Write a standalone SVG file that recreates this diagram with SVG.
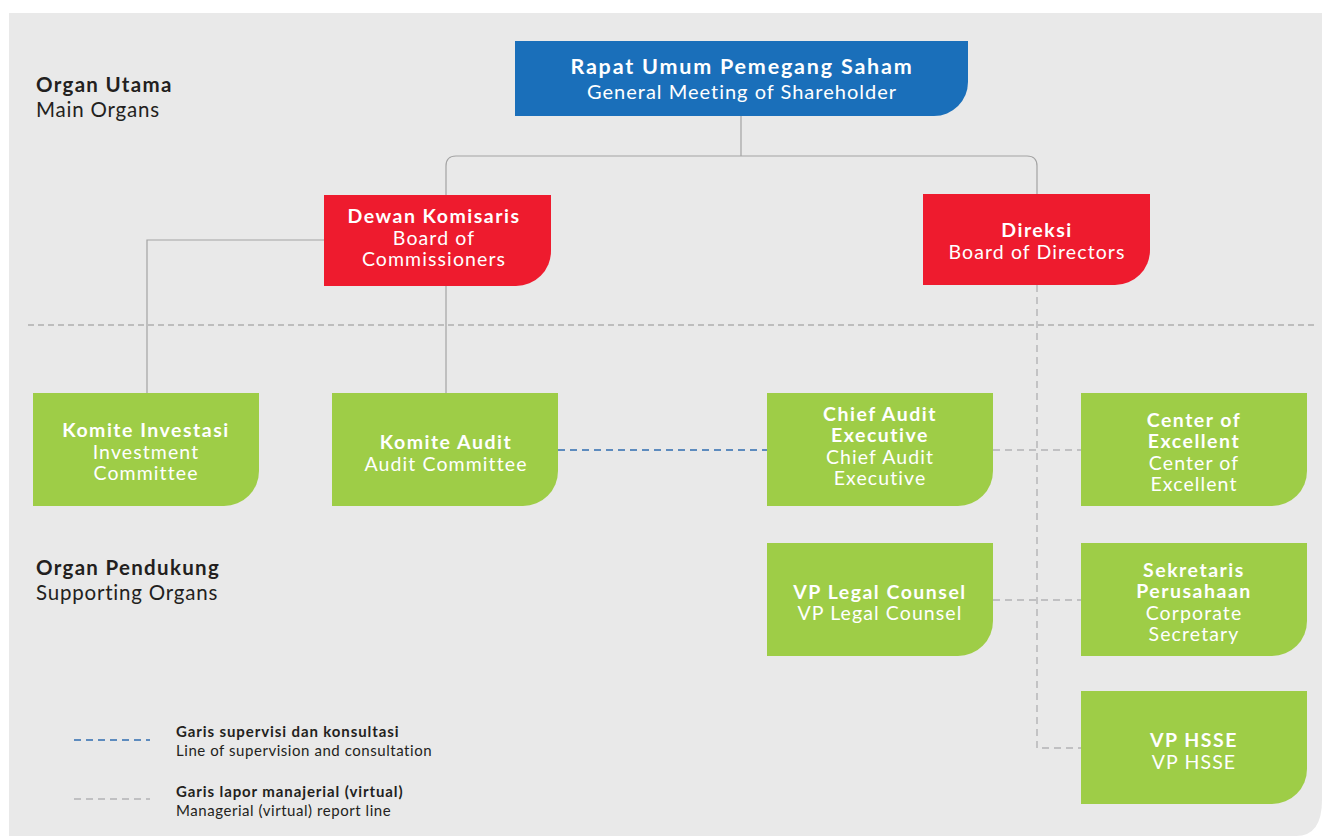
<svg xmlns="http://www.w3.org/2000/svg" width="1322" height="836" viewBox="0 0 1322 836">
<style>
text{font-family:Lato,"Noto Sans","Liberation Sans",sans-serif;text-anchor:middle}
.t{font-weight:700;fill:#fff;font-size:19.5px;letter-spacing:1.5px}
.s{font-weight:400;fill:#fff;font-size:19.5px;letter-spacing:1.1px}
.lb{font-weight:700;fill:#231f20;font-size:20.5px;letter-spacing:1.3px;text-anchor:start}
.lr{font-weight:400;fill:#231f20;font-size:20.5px;letter-spacing:0.8px;text-anchor:start}
.gb{font-weight:700;fill:#231f20;font-size:15px;letter-spacing:0.9px;text-anchor:start}
.gr{font-weight:400;fill:#231f20;font-size:15px;letter-spacing:0.55px;text-anchor:start}
.blue{fill:#1a6fba}.red{fill:#ee1b2e}.green{fill:#9ecd47}
.solid{fill:none;stroke:#a3a3a3;stroke-width:1.2}
.gdash{fill:none;stroke:#b3b3b5;stroke-width:1.4;stroke-dasharray:7 5}
.bdash{fill:none;stroke:#2f6cb0;stroke-width:1.4;stroke-dasharray:7 5}
</style>
<rect width="1322" height="836" fill="#fff"/>
<path d="M9 13 H1322 V800 Q1322 836 1296 836 H9 Z" fill="#e9e9e9"/>
<line x1="28" y1="325" x2="1315" y2="325" stroke="#bdbdbd" stroke-width="2" stroke-dasharray="6 4"/>
<g id="section-labels">
<text class="lb" x="36" y="92">Organ Utama</text>
<text class="lr" x="36" y="117">Main Organs</text>
<text class="lb" x="36" y="575">Organ Pendukung</text>
<text class="lr" x="36" y="600">Supporting Organs</text>
</g>
<g id="connectors">
<path class="solid" d="M741 116 V156 M446 195 V166 Q446 156 456 156 H1027 Q1037 156 1037 166 V194"/>
<path class="solid" d="M324 240 H147 V393"/>
<path class="solid" d="M446 286 V393"/>
<path class="gdash" d="M1037 285 V748 H1081"/>
<path class="bdash" d="M558 450 H767"/>
<path class="gdash" d="M993 450 H1081"/>
<path class="gdash" d="M993 600 H1081"/>
</g>
<g id="n-gms"><path class="blue" d="M515 41 H968 V82 A34 34 0 0 1 934 116 H515 Z"/>
<text class="t" x="742" y="74" style="font-size:21.5px;letter-spacing:1.8px">Rapat Umum Pemegang Saham</text>
<text class="s" x="742" y="99" style="font-size:20px;letter-spacing:1px">General Meeting of Shareholder</text></g>
<g id="n-dewan"><path class="red" d="M324 195 H551 V251 A35 35 0 0 1 516 286 H324 Z"/>
<text class="t" x="434" y="223">Dewan Komisaris</text>
<text class="s" x="434" y="245">Board of</text>
<text class="s" x="434" y="266">Commissioners</text></g>
<g id="n-direksi"><path class="red" d="M923 194 H1150 V250 A35 35 0 0 1 1115 285 H923 Z"/>
<text class="t" x="1037" y="237">Direksi</text>
<text class="s" x="1037" y="259">Board of Directors</text></g>
<g id="n-investasi"><path class="green" d="M33 393 H259 V471 A35 35 0 0 1 224 506 H33 Z"/>
<text class="t" x="146" y="437">Komite Investasi</text>
<text class="s" x="146" y="459">Investment</text>
<text class="s" x="146" y="480">Committee</text></g>
<g id="n-audit"><path class="green" d="M332 393 H558 V471 A35 35 0 0 1 523 506 H332 Z"/>
<text class="t" x="446" y="449">Komite Audit</text>
<text class="s" x="446" y="471">Audit Committee</text></g>
<g id="n-cae"><path class="green" d="M767 393 H993 V471 A35 35 0 0 1 958 506 H767 Z"/>
<text class="t" x="880" y="421">Chief Audit</text>
<text class="t" x="880" y="442">Executive</text>
<text class="s" x="880" y="464">Chief Audit</text>
<text class="s" x="880" y="485">Executive</text></g>
<g id="n-coe"><path class="green" d="M1081 393 H1307 V471 A35 35 0 0 1 1272 506 H1081 Z"/>
<text class="t" x="1194" y="427">Center of</text>
<text class="t" x="1194" y="448">Excellent</text>
<text class="s" x="1194" y="470">Center of</text>
<text class="s" x="1194" y="491">Excellent</text></g>
<g id="n-legal"><path class="green" d="M767 543 H993 V621 A35 35 0 0 1 958 656 H767 Z"/>
<text class="t" x="880" y="599">VP Legal Counsel</text>
<text class="s" x="880" y="620">VP Legal Counsel</text></g>
<g id="n-sekretaris"><path class="green" d="M1081 543 H1307 V621 A35 35 0 0 1 1272 656 H1081 Z"/>
<text class="t" x="1194" y="577">Sekretaris</text>
<text class="t" x="1194" y="598">Perusahaan</text>
<text class="s" x="1194" y="620">Corporate</text>
<text class="s" x="1194" y="641">Secretary</text></g>
<g id="n-hsse"><path class="green" d="M1081 691 H1307 V769 A35 35 0 0 1 1272 804 H1081 Z"/>
<text class="t" x="1194" y="747">VP HSSE</text>
<text class="s" x="1194" y="769">VP HSSE</text></g>
<g id="legend">
<line class="bdash" x1="74" y1="740" x2="150" y2="740" stroke-dasharray="10 7"/>
<line class="gdash" x1="74" y1="799" x2="150" y2="799" stroke-dasharray="10 7"/>
<text class="gb" x="176" y="737">Garis supervisi dan konsultasi</text>
<text class="gr" x="176" y="756">Line of supervision and consultation</text>
<text class="gb" x="176" y="797">Garis lapor manajerial (virtual)</text>
<text class="gr" x="176" y="816">Managerial (virtual) report line</text>
</g>
</svg>
